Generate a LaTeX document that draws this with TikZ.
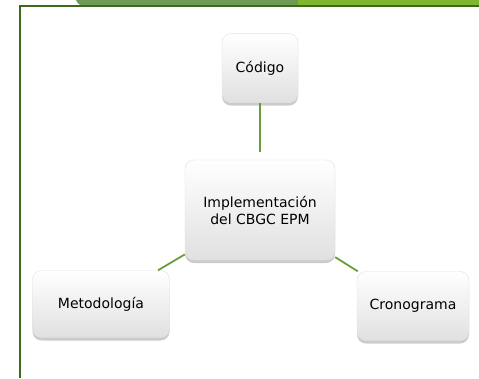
\documentclass[tikz,border=0pt]{standalone}
\usepackage{fontspec}
\setmainfont{DejaVu Sans}
\usepackage{xcolor}
\usepackage{tikz}
\usetikzlibrary{positioning,shadows}

\definecolor{framegreen}{HTML}{3B6A1C}
\definecolor{linkgreen}{HTML}{6A9C3C}
\definecolor{barmuted}{HTML}{6F9A55}
\definecolor{barbright}{HTML}{80B531}

\begin{document}
\begin{tikzpicture}[
    x=1pt, y=-1pt,
    node distance=57pt,
    card/.style={draw=black!12, rounded corners=9pt, top color=white, bottom color=black!12,
      align=center, inner sep=0pt, text=black, font=\fontsize{14}{17}\selectfont,
      drop shadow={shadow xshift=0pt, shadow yshift=-3pt, fill=black!40, opacity=0.5}},
    link/.style={draw=linkgreen, line width=1.8pt}
]
\useasboundingbox (0,0) rectangle (479,378);

% slide band and frame
\fill[barmuted] (76,0) .. controls (78,4) and (80,6) .. (86,6) -- (298,6) -- (298,0) -- cycle;
\fill[barbright] (298,0) rectangle (479,6);
\draw[framegreen, line width=2pt] (479,6) -- (19.5,6) -- (19.5,378);

\node[card, minimum width=150pt, minimum height=100pt] (impl) at (260,210) {Implementación\\del CBGC EPM};
\node[card, minimum width=76pt, minimum height=69pt, above=of impl] (codigo) {Código};
\node[card, minimum width=137pt, minimum height=67pt] (metodo) at (101,304) {Metodología};
\node[card, minimum width=112pt, minimum height=69pt] (crono) at (413,306) {Cronograma};

\draw[link, shorten >=8pt] (codigo) -- (impl);
\draw[link] (impl) -- (metodo);
\draw[link] (impl) -- (crono);
\end{tikzpicture}
\end{document}
